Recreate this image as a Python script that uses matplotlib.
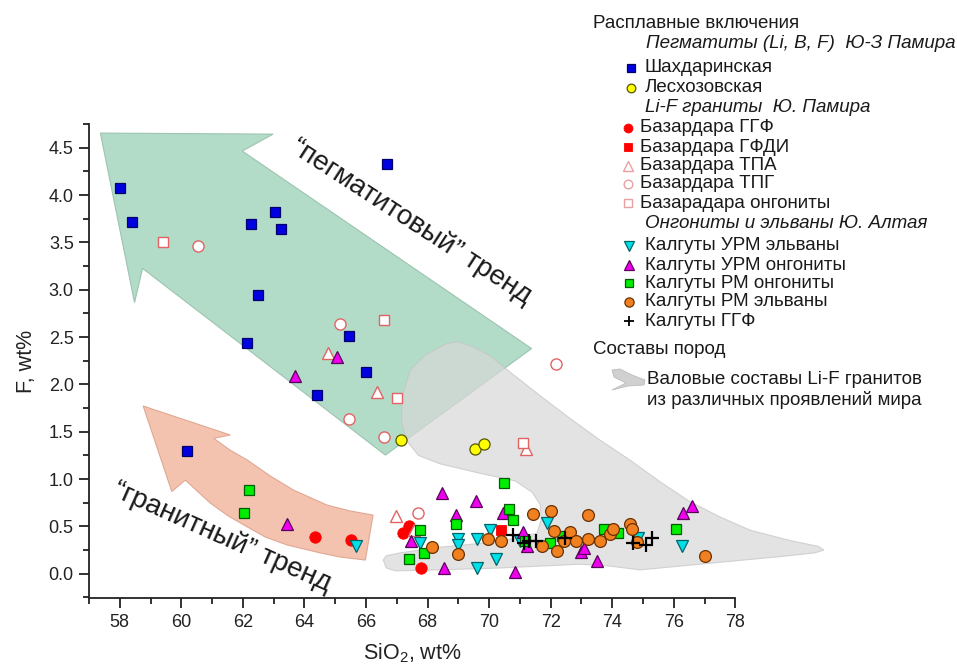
import matplotlib
matplotlib.use("Agg")
import matplotlib.pyplot as plt
from matplotlib.patches import Polygon
from matplotlib.ticker import MultipleLocator, FormatStrFormatter

plt.rcParams['font.family'] = ['Liberation Sans', 'DejaVu Sans']
plt.rcParams['mathtext.fontset'] = 'custom'
plt.rcParams['mathtext.rm'] = 'Liberation Sans'

# ---------------- melt inclusions: SiO2, wt% vs F, wt% ----------------
# pegmatites (Li, B, F), SW Pamir
shakh_sio2 = [58.0, 58.4, 62.27, 63.03, 63.24, 62.49, 62.14, 65.45, 66.01, 64.41, 60.19, 66.68]
shakh_f    = [4.07, 3.71, 3.69, 3.82, 3.64, 2.94, 2.44, 2.51, 2.13, 1.89, 1.30, 4.33]

leskh_sio2 = [67.14, 69.55, 69.84]
leskh_f    = [1.41, 1.32, 1.37]

# Li-F granites, S Pamir (Bazardara)
bgf_sio2 = [64.35, 65.51, 67.2, 67.39, 67.8]
bgf_f    = [0.39, 0.36, 0.43, 0.50, 0.06]

bfdi_sio2 = [70.39]
bfdi_f    = [0.46]

tpa_sio2 = [64.77, 66.36, 71.2, 66.98, 67.57]
tpa_f    = [2.33, 1.92, 1.32, 0.61, 0.46]

tpg_sio2 = [60.55, 65.14, 65.44, 66.6, 72.18, 67.69]
tpg_f    = [3.46, 2.64, 1.63, 1.44, 2.22, 0.64]

bong_sio2 = [59.4, 66.59, 67.0, 71.1]
bong_f    = [3.50, 2.68, 1.86, 1.38]

# ongonites and elvans, S Altai (Kalguty)
urm_elv_sio2 = [65.69, 67.74, 69.0, 69.0, 69.6, 70.04, 70.23, 69.62, 71.88, 71.0, 74.85, 76.26]
urm_elv_f    = [0.29, 0.32, 0.37, 0.30, 0.37, 0.46, 0.16, 0.06, 0.54, 0.35, 0.38, 0.29]

urm_ong_sio2 = [63.68, 65.06, 63.43, 68.47, 69.58, 68.93, 67.46, 68.54, 70.85, 70.45,
                71.1, 71.23, 72.98, 73.07, 73.52, 76.31, 76.58]
urm_ong_f    = [2.09, 2.29, 0.53, 0.85, 0.77, 0.62, 0.35, 0.06, 0.02, 0.64,
                0.44, 0.29, 0.23, 0.27, 0.13, 0.64, 0.72]

rm_ong_sio2 = [62.19, 62.03, 70.5, 70.66, 70.79, 67.76, 68.93, 67.9, 67.39, 71.17,
               71.98, 72.36, 73.74, 74.2, 76.06]
rm_ong_f    = [0.88, 0.64, 0.96, 0.68, 0.57, 0.46, 0.53, 0.22, 0.16, 0.34,
               0.32, 0.40, 0.47, 0.43, 0.47]

rm_elv_sio2 = [68.15, 69.0, 69.98, 70.38, 71.44, 72.0, 73.2, 72.11, 71.71, 72.2, 72.42,
               72.63, 72.83, 73.23, 73.61, 73.93, 74.04, 74.58, 74.64, 74.8, 77.02]
rm_elv_f    = [0.28, 0.21, 0.37, 0.35, 0.63, 0.66, 0.62, 0.45, 0.29, 0.24, 0.35,
               0.44, 0.35, 0.37, 0.35, 0.42, 0.47, 0.53, 0.47, 0.33, 0.19]

kggf_sio2 = [70.79, 71.12, 71.31, 71.53, 72.47, 74.69, 75.1, 75.29]
kggf_f    = [0.41, 0.32, 0.35, 0.35, 0.38, 0.32, 0.30, 0.38]

# ---------------- fields and trend arrows (SiO2, F) ----------------
lif_field_sio2 = [66.56, 66.66, 66.95, 68.41, 70.36, 71.66, 72.96, 73.93, 74.91, 75.88,
                  77.50, 79.45, 80.59, 80.88, 80.68, 79.78, 78.48, 77.50, 76.53, 75.56,
                  74.58, 73.61, 72.63, 71.66, 70.68, 70.04, 69.45, 69.00, 68.61, 67.93,
                  67.44, 67.18, 67.15, 67.31, 67.70, 68.41, 69.71, 70.85, 71.40, 71.66,
                  71.69, 71.56, 71.01, 69.71, 68.41, 67.11, 66.66]
lif_field_f = [0.145, 0.06, 0.03, 0.04, 0.06, 0.08, 0.10, 0.08, 0.04, 0.07,
               0.12, 0.18, 0.22, 0.25, 0.29, 0.35, 0.46, 0.60, 0.76, 0.97,
               1.20, 1.41, 1.64, 1.88, 2.13, 2.30, 2.40, 2.45, 2.43, 2.31,
               2.15, 1.88, 1.62, 1.41, 1.25, 1.16, 1.06, 0.98, 0.86, 0.73,
               0.57, 0.43, 0.38, 0.32, 0.28, 0.22, 0.19]

peg_arrow_sio2 = [57.37, 62.98, 61.98, 71.38, 66.63, 58.74, 58.48]
peg_arrow_f    = [4.654, 4.643, 4.464, 2.378, 1.253, 3.225, 2.864]

gran_arrow_sio2 = [58.76, 61.59, 61.05, 61.58, 62.14, 62.89, 63.64, 64.73, 65.49, 66.23,
                   65.98, 65.16, 64.52, 63.44, 62.73, 62.15, 61.53, 60.94, 60.13, 59.69]
gran_arrow_f    = [1.771, 1.465, 1.430, 1.306, 1.201, 1.032, 0.884, 0.725, 0.662, 0.619,
                   0.144, 0.176, 0.219, 0.303, 0.387, 0.493, 0.609, 0.746, 0.989, 0.868]

x_ticks = [58, 60, 62, 64, 66, 68, 70, 72, 74, 76, 78]
y_ticks = [0.0, 0.5, 1.0, 1.5, 2.0, 2.5, 3.0, 3.5, 4.0, 4.5]

W, H = 957, 669
fig = plt.figure(figsize=(W / 100, H / 100), dpi=100)
ax = fig.add_axes([89 / W, 1 - 598.3 / H, (735.3 - 89) / W, (598.3 - 124) / H])

ax.add_patch(Polygon(list(zip(peg_arrow_sio2, peg_arrow_f)), closed=True,
                     facecolor='#b3dcc8', edgecolor='#9cc4b0', lw=0.8, zorder=1))
ax.add_patch(Polygon(list(zip(gran_arrow_sio2, gran_arrow_f)), closed=True,
                     facecolor='#f4c3af', edgecolor='#e0a894', lw=0.8, zorder=1))
ax.add_patch(Polygon(list(zip(lif_field_sio2, lif_field_f)), closed=True,
                     facecolor='#d8d8d8', edgecolor='#c4c4c4', lw=0.8, alpha=0.7,
                     zorder=2, clip_on=False))

# series styles
series = [
    (shakh_sio2, shakh_f, dict(marker='s', ms=7.2, mfc='#0000e0', mec='#00006a', mew=0.9)),
    (leskh_sio2, leskh_f, dict(marker='o', ms=8.0, mfc='#ffff00', mec='#555500', mew=0.9)),
    (bgf_sio2, bgf_f, dict(marker='o', ms=8.2, mfc='#ff0000', mec='#ff0000', mew=0.6)),
    (bfdi_sio2, bfdi_f, dict(marker='s', ms=7.2, mfc='#ff0000', mec='#ff0000', mew=0.6)),
    (tpa_sio2, tpa_f, dict(marker='^', ms=8.5, mfc='white', mec='#e06464', mew=1.0)),
    (tpg_sio2, tpg_f, dict(marker='o', ms=8.0, mfc='white', mec='#e06464', mew=1.0)),
    (bong_sio2, bong_f, dict(marker='s', ms=7.2, mfc='white', mec='#e06464', mew=1.0)),
    (urm_elv_sio2, urm_elv_f, dict(marker='v', ms=8.5, mfc='#00e0e8', mec='#006468', mew=0.9)),
    (urm_ong_sio2, urm_ong_f, dict(marker='^', ms=8.5, mfc='#ee00ee', mec='#5a005a', mew=0.9)),
    (rm_ong_sio2, rm_ong_f, dict(marker='s', ms=7.2, mfc='#00ee00', mec='#005a00', mew=0.9)),
    (rm_elv_sio2, rm_elv_f, dict(marker='o', ms=8.5, mfc='#f08020', mec='#6a3000', mew=0.9)),
    (kggf_sio2, kggf_f, dict(marker='+', ms=10, mec='black', mew=1.6)),
]
for i, (xs, ys, st) in enumerate(series):
    ax.plot(xs, ys, ls='none', zorder=3 + i * 0.01, **st)

ax.set_xlim(57, 78)
ax.set_ylim(-0.26, 4.75)
ax.set_xticks(x_ticks)
ax.set_yticks(y_ticks)
ax.xaxis.set_minor_locator(MultipleLocator(1))
ax.yaxis.set_minor_locator(MultipleLocator(0.25))
ax.yaxis.set_major_formatter(FormatStrFormatter('%.1f'))
for s in ('top', 'right'):
    ax.spines[s].set_visible(False)
for s in ('left', 'bottom'):
    ax.spines[s].set_linewidth(1.3)
    ax.spines[s].set_color('#222222')
ax.tick_params(which='major', direction='out', length=7, width=1.3, labelsize=13,
               color='#222222', labelcolor='#222222', pad=4)
ax.tick_params(which='minor', direction='out', length=4, width=1.3, color='#222222')
ax.set_xlabel('SiO$_2$, wt%', fontsize=15.5, color='#222222', labelpad=8)
ax.set_ylabel('F, wt%', fontsize=15.5, color='#222222', labelpad=8)

ax.text(67.46, 3.715, '\u201cпегматитовый\u201d тренд', rotation=-33, rotation_mode='anchor',
        ha='center', va='center', fontsize=20, color='#1a1a1a', zorder=5)
ax.text(61.32, 0.387, '\u201cгранитный\u201d тренд', rotation=-24, rotation_mode='anchor',
        ha='center', va='center', fontsize=20, color='#1a1a1a', zorder=5, clip_on=False)

# ---------------- legend drawn in figure pixel space ----------------
lg = fig.add_axes([0, 0, 1, 1], facecolor='none')
lg.set_xlim(0, W)
lg.set_ylim(H, 0)
lg.axis('off')

fs = 13.5
tc = '#1a1a1a'
lg.text(593, 23, 'Расплавные включения', fontsize=fs, va='center', color=tc)
lg.text(646, 44, 'Пегматиты (Li, B, F)  Ю-З Памира', fontsize=fs, style='italic', va='center', color=tc)
lg.text(645, 107, 'Li-F граниты  Ю. Памира', fontsize=fs, style='italic', va='center', color=tc)
lg.text(645, 224, 'Онгониты и эльваны Ю. Алтая', fontsize=fs, style='italic', va='center', color=tc)
lg.text(593, 350, 'Составы пород', fontsize=fs, va='center', color=tc)

entries = [
    (68, 631, 645, 'Шахдаринская', 0),
    (88, 631, 645, 'Лесхозовская', 1),
    (128, 628, 640, 'Базардара ГГФ', 2),
    (147, 628, 640, 'Базардара ГФДИ', 3),
    (166, 628, 640, 'Базардара ТПА', 4),
    (184, 628, 640, 'Базардара ТПГ', 5),
    (203, 628, 640, 'Базарадара онгониты', 6),
    (246, 629, 645, 'Калгуты УРМ эльваны', 7),
    (265, 629, 645, 'Калгуты УРМ онгониты', 8),
    (283, 629, 645, 'Калгуты РМ онгониты', 9),
    (302, 629, 645, 'Калгуты РМ эльваны', 10),
    (321, 629, 645, 'Калгуты ГГФ', 11),
]
for y, mx, tx, label, idx in entries:
    st = dict(series[idx][2])
    st['ms'] = st['ms'] * 0.78
    if st['marker'] == '+':
        st['mew'] = 1.3
    if st['mfc'] == 'white' if 'mfc' in st else False:
        st['mec'] = '#eaa0a0'
    lg.plot([mx], [y], ls='none', **st)
    lg.text(tx, y, label, fontsize=fs, va='center', color=tc)

icon = [(612, 370), (620, 369), (632, 375), (645, 380), (644, 385), (628, 386),
        (612, 390), (626, 383), (614, 377)]
lg.add_patch(Polygon(icon, closed=True, facecolor='#d0d0d0', edgecolor='#bdbdbd', lw=0.6))
lg.text(647, 380, 'Валовые составы Li-F гранитов', fontsize=fs, va='center', color=tc)
lg.text(647, 400, 'из различных проявлений мира', fontsize=fs, va='center', color=tc)

fig.savefig('out.png', dpi=100)
